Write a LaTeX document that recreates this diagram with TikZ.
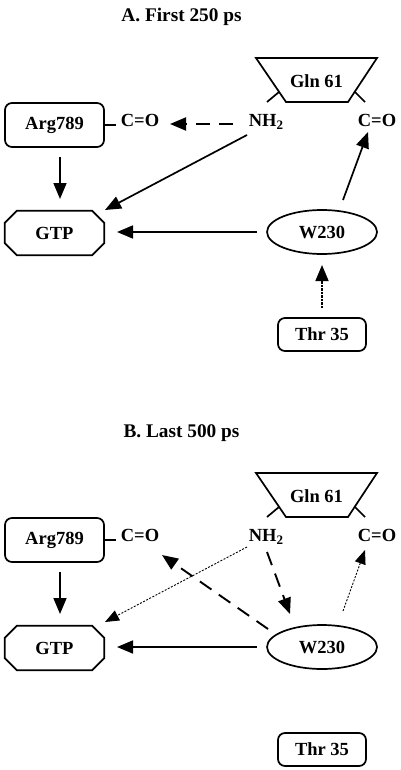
\documentclass[tikz,border=0pt]{standalone}
\usepackage{fontspec}
\setmainfont{Liberation Serif}
\usetikzlibrary{arrows.meta,shapes.geometric}
\tikzset{
  lbl/.style={font=\fontsize{18.5}{20}\selectfont\bfseries, inner sep=0pt, text height=12.5pt, text depth=0pt},
  ttl/.style={font=\fontsize{19.3}{21}\selectfont\bfseries, inner sep=0pt, anchor=base},
  shp/.style={line width=1.7pt, line join=miter},
  rbox/.style={draw, line width=1.7pt, rounded corners=7pt, inner sep=0pt, font=\fontsize{18.5}{20}\selectfont\bfseries},
  octo/.style={inner sep=0pt, minimum width=99pt, minimum height=44pt, font=\fontsize{18.5}{20}\selectfont\bfseries},
  oval/.style={draw, ellipse, line width=1.7pt, inner sep=0pt, minimum width=110pt, minimum height=44pt, font=\fontsize{18.5}{20}\selectfont\bfseries},
  arr/.style={line width=1.7pt, -{Triangle[length=16pt,width=13pt]}},
  longdash/.style={arr, line width=1.9pt, dash pattern=on 14pt off 9pt},
  finedash/.style={arr, dash pattern=on 2.5pt off 1pt},
  thindot/.style={line width=0.9pt, dash pattern=on 2pt off 1.5pt, -{Triangle[length=14pt,width=11pt]}},
}
\newcommand\basepanel[2]{%
  \node[ttl] (title#1) at (181.5,22) {#2};
  \draw[shp] (256,58) -- (377,58) -- (348,102) -- (286,102) -- cycle;
  \node[lbl] (gln#1) at (316.5,81) {Gln 61};
  \draw[shp] (279,92) -- (267,102);
  \draw[shp] (355,92) -- (365,102);
  \node[lbl] (nh2#1) at (266,120) {NH\raisebox{-3pt}{\fontsize{13}{13}\selectfont 2}};
  \node[lbl] (coR#1) at (377,120) {C=O};
  \node[lbl] (coL#1) at (140,120) {C=O};
  \node[rbox, minimum width=99pt, minimum height=44pt] (arg#1) at (54.5,125) {Arg789};
  \draw[shp] (arg#1.east) -- ++(11,0);
  \node[octo] (gtp#1) at (54.5,233) {GTP};
  \draw[shp] ([shift={(12,0)}]gtp#1.north west) -- ([shift={(-12,0)}]gtp#1.north east)
    -- ([shift={(0,12)}]gtp#1.north east) -- ([shift={(0,-12)}]gtp#1.south east)
    -- ([shift={(-12,0)}]gtp#1.south east) -- ([shift={(12,0)}]gtp#1.south west)
    -- ([shift={(0,-12)}]gtp#1.south west) -- ([shift={(0,12)}]gtp#1.north west) -- cycle;
  \node[oval] (w230#1) at (322,232) {W230};
  \node[rbox, minimum width=88pt, minimum height=33pt] (thr#1) at (322,334.5) {Thr 35};
}
\begin{document}
\begin{tikzpicture}[x=1pt,y=-1pt]
\useasboundingbox (0,0) rectangle (400,770);
\begin{scope}
\basepanel{A}{A. First 250 ps}
\end{scope}
\begin{scope}[shift={(0,415)}]
\basepanel{B}{B. Last 500 ps}
\end{scope}
% Panel A connectors
\draw[longdash] ([shift={(-33,4)}]nh2A.center) -- ([shift={(30,4)}]coLA.center);
\draw[arr] ([shift={(-19,15)}]nh2A.center) -- ([shift={(50.5,-23)}]gtpA.center);
\draw[arr] ([shift={(5.5,32)}]argA.center) -- ([shift={(5.5,-34)}]gtpA.center);
\draw[arr] ([shift={(-65,0)}]w230A.center) -- ([shift={(62.5,-1)}]gtpA.center);
\draw[arr] ([shift={(21,-32)}]w230A.center) -- ([shift={(-9,12)}]coRA.center);
\draw[finedash] ([shift={(0,-26.5)}]thrA.center) -- ([shift={(0,33)}]w230A.center);
% Panel B connectors
\draw[arr] ([shift={(5.5,32)}]argB.center) -- ([shift={(5.5,-34)}]gtpB.center);
\draw[arr] ([shift={(-65,0)}]w230B.center) -- ([shift={(62.5,-1)}]gtpB.center);
\draw[thindot] ([shift={(-19,12)}]nh2B.center) -- ([shift={(50.5,-26)}]gtpB.center);
\draw[longdash] ([shift={(-54,-18)}]w230B.center) -- ([shift={(22,20)}]coLB.center);
\draw[longdash] ([shift={(1,17)}]nh2B.center) -- ([shift={(-32,-33)}]w230B.center);
\draw[thindot] ([shift={(21,-36)}]w230B.center) -- ([shift={(-12,15)}]coRB.center);
\end{tikzpicture}
\end{document}
